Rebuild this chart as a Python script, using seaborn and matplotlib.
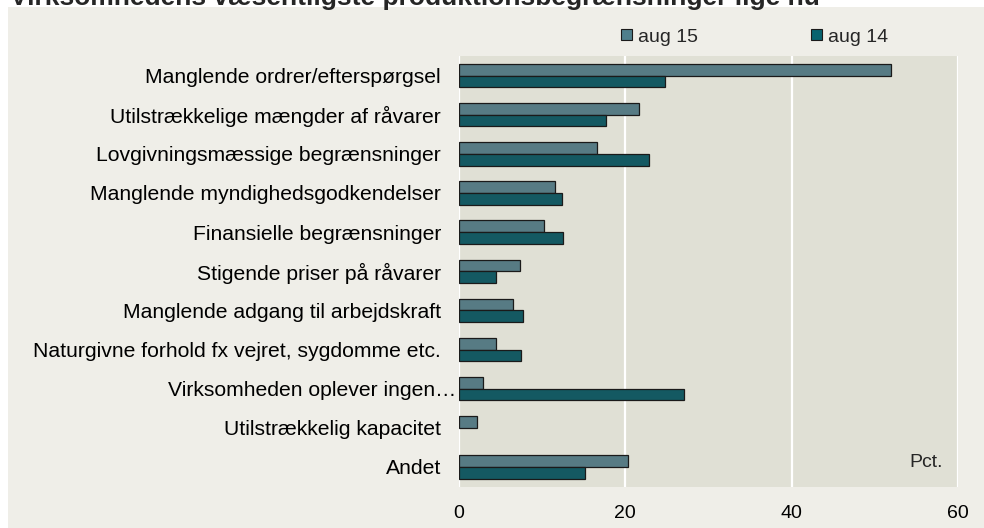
import pandas as pd
import matplotlib.pyplot as plt
import matplotlib.transforms as mtransforms
import seaborn as sns
from matplotlib.patches import Patch, Rectangle

# kategorier og værdier (pct.)
kategorier = [
    'Manglende ordrer/efterspørgsel',
    'Utilstrækkelige mængder af råvarer',
    'Lovgivningsmæssige begrænsninger',
    'Manglende myndighedsgodkendelser',
    'Finansielle begrænsninger',
    'Stigende priser på råvarer',
    'Manglende adgang til arbejdskraft',
    'Naturgivne forhold fx vejret, sygdomme etc.',
    'Virksomheden oplever ingen…',
    'Utilstrækkelig kapacitet',
    'Andet',
]
aug15 = [52.0, 21.6, 16.6, 11.6, 10.2, 7.3, 6.5, 4.4, 2.9, 2.2, 20.3]
aug14 = [24.8, 17.7, 22.9, 12.4, 12.5, 4.5, 7.7, 7.4, 27.0, None, 15.2]
serier = ['aug 15', 'aug 14']
farver = ['#4f7f8c', '#07636f']
xticks = [0, 20, 40, 60]

df = pd.DataFrame({
    'kategori': kategorier * 2,
    'pct': aug15 + aug14,
    'serie': [serier[0]] * len(kategorier) + [serier[1]] * len(kategorier),
})

sns.set_style('white')
plt.rcParams['font.family'] = ['Liberation Sans', 'DejaVu Sans']

fig = plt.figure(figsize=(9.84, 5.28), dpi=100, facecolor='white')
fig.patches.append(Rectangle((8 / 984, 0), 1, 1 - 7 / 528, transform=fig.transFigure,
                             facecolor='#efeee8', edgecolor='none', zorder=-10))
ax = fig.add_axes([459 / 984, 1 - 486.5 / 528, 499 / 984, 430.5 / 528])
ax.set_facecolor('#e0e0d5')

sns.barplot(data=df, y='kategori', x='pct', hue='serie', hue_order=serier,
            palette=farver, orient='h', width=0.6, edgecolor='#1a1a1a',
            linewidth=0.9, ax=ax, legend=False)

ax.set_xlim(0, 60)
ax.set_ylim(10.5, -0.5)
ax.set_xticks(xticks)
ax.set_xlabel('')
ax.set_ylabel('')
for s in ax.spines.values():
    s.set_visible(False)
for x in xticks:
    ax.axvline(x, color='white', lw=1.6, zorder=0.5)
ax.set_axisbelow(True)
ax.tick_params(axis='y', length=0, labelsize=15.2, colors='black', pad=13)
ax.tick_params(axis='x', length=0, labelsize=14, colors='black', pad=13)

# den afkortede etiket hænger ud over de andre
for lab in ax.get_yticklabels():
    if lab.get_text().endswith('…'):
        lab.set_transform(lab.get_transform() +
                          mtransforms.ScaledTranslation(15 / 100, 0, fig.dpi_scale_trans))

ax.text(0.970, 0.055, 'Pct.', transform=ax.transAxes, ha='right', va='center', fontsize=14)

handles = [Patch(facecolor=c, edgecolor='#1a1a1a', linewidth=0.8) for c in farver]
fig.legend(handles, serier, loc='center left', bbox_to_anchor=(621 / 984, 1 - 37 / 528),
           ncol=2, frameon=False, fontsize=14, handlelength=0.55, handleheight=0.55,
           handletextpad=0.3, columnspacing=5.85, borderpad=0, borderaxespad=0)

fig.text(10 / 984, 1 - 5 / 528, 'Virksomhedens væsentligste produktionsbegrænsninger lige nu',
         ha='left', va='baseline', fontsize=19, fontweight='bold')

plt.savefig('out.png', dpi=100, facecolor=fig.get_facecolor())
